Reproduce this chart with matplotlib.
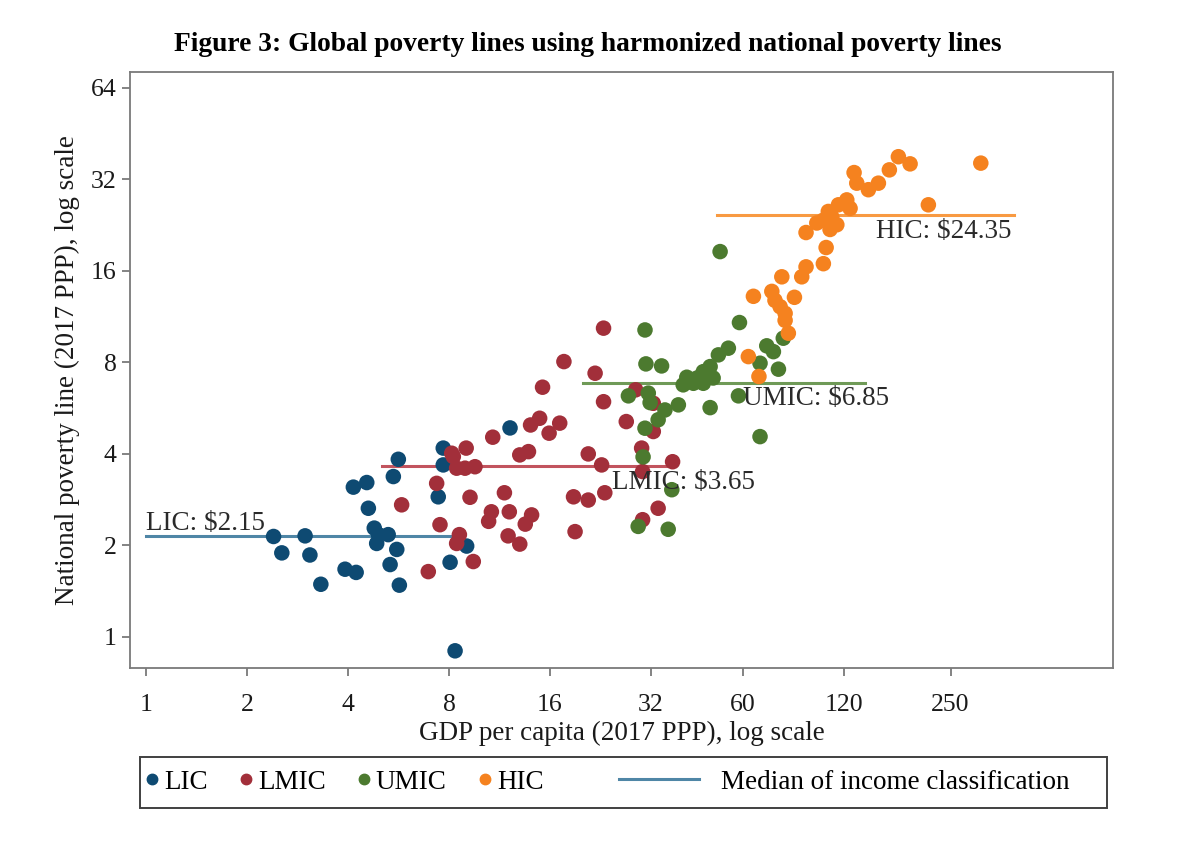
import matplotlib.pyplot as plt
from matplotlib.lines import Line2D
from matplotlib.patches import Rectangle

plt.rcParams["font.family"] = ["Liberation Serif", "DejaVu Serif"]

# GDP per capita (thousand 2017 PPP) and national poverty line (2017 PPP $/day)
lic_gdp = [2.40, 2.54, 2.98, 3.08, 3.32, 3.92, 4.23, 4.15, 4.55, 4.60, 4.79, 4.87, 4.93,
           5.27, 5.59, 5.34, 5.69, 5.46, 5.65, 7.69, 7.69, 7.43, 8.06, 9.03, 8.34, 12.16]
lic_pl = [2.14, 1.89, 2.15, 1.86, 1.49, 1.67, 1.63, 3.11, 3.22, 2.65, 2.28, 2.03, 2.17,
          2.17, 1.94, 1.73, 1.48, 3.37, 3.84, 4.18, 3.68, 2.89, 1.76, 1.99, 0.90, 4.87]

lmic_gdp = [23.1, 17.6, 21.8, 15.2, 23.1, 28.8, 32.5, 27.0, 32.5, 14.9, 14.0, 17.1, 15.9,
            10.8, 9.0, 8.15, 13.8, 13.0, 20.8, 22.8, 30.0, 37.1, 8.43, 8.93, 9.56, 8.24,
            7.35, 5.78, 9.24, 11.7, 10.7, 10.5, 12.1, 14.1, 13.5, 12.0, 13.0, 7.52, 8.59,
            8.43, 18.8, 20.8, 23.3, 19.0, 30.2, 33.6, 30.2, 9.45, 6.94]
lmic_pl = [10.37, 8.05, 7.37, 6.63, 5.94, 6.50, 5.87, 5.11, 4.74, 5.24, 4.98, 5.05, 4.68,
           4.54, 4.18, 4.02, 4.07, 3.97, 4.00, 3.68, 4.18, 3.77, 3.59, 3.59, 3.63, 3.92,
           3.20, 2.72, 2.88, 2.98, 2.58, 2.40, 2.58, 2.52, 2.35, 2.15, 2.02, 2.34, 2.17,
           2.03, 2.89, 2.82, 2.98, 2.22, 3.50, 2.65, 2.43, 1.77, 1.64]

umic_gdp = [51.4, 30.7, 58.7, 30.9, 34.4, 54.4, 50.8, 48.0, 45.8, 70.8, 74.1, 67.6, 76.7,
            79.3, 40.9, 42.8, 45.8, 39.9, 27.4, 31.4, 31.8, 38.6, 48.0, 58.3, 35.2, 33.6,
            30.7, 67.6, 30.3, 36.9, 29.3, 36.0, 43.9, 49.0]
umic_pl = [18.52, 10.23, 10.82, 7.91, 7.79, 8.91, 8.47, 7.75, 7.46, 9.07, 8.68, 7.95, 7.60,
           9.61, 7.15, 6.83, 6.83, 6.75, 6.21, 6.34, 5.90, 5.80, 5.68, 6.21, 5.58, 5.18,
           4.86, 4.56, 3.91, 3.05, 2.31, 2.26, 7.11, 7.11]

hic_gdp = [174.7, 189.3, 164.2, 307.5, 128.9, 131.3, 142.2, 152.3, 214.6, 122.6, 115.8,
           125.4, 108.0, 110.6, 104.4, 99.8, 114.5, 109.3, 92.7, 106.4, 104.4, 92.7, 90.0,
           78.5, 64.6, 73.3, 74.9, 77.6, 85.6, 80.3, 82.1, 62.4, 67.1, 80.3]
hic_pl = [38.0, 36.0, 34.4, 36.2, 33.7, 31.1, 29.6, 31.1, 26.4, 27.4, 26.4, 25.7, 25.1,
          24.1, 23.5, 23.0, 22.7, 21.9, 21.4, 19.1, 16.9, 16.5, 15.3, 15.3, 13.2, 13.7,
          12.8, 12.2, 13.1, 11.0, 9.98, 8.36, 7.19, 11.6]

# medians of each income classification and the GDP span of each segment
group_names = ["LIC", "LMIC", "UMIC", "HIC"]
median_pl = [2.15, 3.65, 6.85, 24.35]
median_x0 = [1.0, 5.04, 20.1, 50.2]
median_x1 = [8.34, 35.6, 139.0, 385.0]

x_ticks = [1, 2, 4, 8, 16, 32, 60, 120, 250]
y_ticks = [1, 2, 4, 8, 16, 32, 64]

colors = ["#0e4a72", "#a22f3a", "#4c7a2f", "#f5821f"]
line_colors = ["#4f86a6", "#c2545e", "#6f9a57", "#f89a42"]

# label anchors (left edge, vertical centre) in data units
label_xy = [(1.0, 2.37), (24.5, 3.21), (60.2, 6.07), (149.9, 21.5)]

fs = 19.5

fig = plt.figure(figsize=(11.88, 8.44), dpi=100)
ax = fig.add_axes([0.1094, 0.2085, 0.8275, 0.7062])

# median segments under the points
for i, name in enumerate(group_names):
    ax.plot([median_x0[i], median_x1[i]], [median_pl[i], median_pl[i]],
            color=line_colors[i], lw=2.2, zorder=1)

series = [(lic_gdp, lic_pl), (lmic_gdp, lmic_pl), (umic_gdp, umic_pl), (hic_gdp, hic_pl)]
for i, (gx, gy) in enumerate(series):
    ax.scatter(gx, gy, s=125, color=colors[i], edgecolors="none", zorder=2 + i)

for i, name in enumerate(group_names):
    lx, ly = label_xy[i]
    ax.text(lx, ly, f"{name}: ${median_pl[i]:.2f}", fontsize=fs, color="#2a2a2a",
            ha="left", va="center", zorder=10)

ax.set_xscale("log")
ax.set_yscale("log")
ax.set_xlim(0.896, 762)
ax.set_ylim(0.79, 72.2)
ax.set_xticks(x_ticks)
ax.set_xticklabels([str(t) for t in x_ticks])
ax.set_yticks(y_ticks)
ax.set_yticklabels([str(t) for t in y_ticks])
ax.minorticks_off()
ax.tick_params(length=6, width=1.2, color="#6e6e6e", labelsize=18.5,
               labelcolor="#1a1a1a")
ax.tick_params(axis="x", pad=12.5)
ax.tick_params(axis="y", pad=3.5)

for sp in ax.spines.values():
    sp.set_color("#7a7a7a")
    sp.set_linewidth(1.3)

ax.set_xlabel("GDP per capita (2017 PPP), log scale", fontsize=fs, color="#1a1a1a",
              labelpad=3.5)
ax.set_ylabel("National poverty line (2017 PPP), log scale", fontsize=fs,
              color="#1a1a1a", labelpad=8)

fig.text(0.495, 0.9467, "Figure 3: Global poverty lines using harmonized national poverty lines",
         ha="center", va="center", fontsize=19.8, fontweight="bold")

# legend: box drawn by hand, dots on the left and the median line on the right
x0, y0, x1, y1 = 0.1178, 0.0427, 0.9318, 0.1031
fig.patches.append(Rectangle((x0, y0), x1 - x0, y1 - y0, transform=fig.transFigure,
                             fill=False, edgecolor="#404040", lw=1.4))
dot_handles = [Line2D([], [], ls="none", marker="o", markersize=7.5, color=c) for c in colors]
fig.legend(dot_handles, group_names, ncol=4, loc="center left",
           bbox_to_anchor=(x0, (y0 + y1) / 2), borderaxespad=0, frameon=False,
           fontsize=fs, handletextpad=0.2, columnspacing=1.15, handlelength=0.5,
           borderpad=0.2)
fig.legend([Line2D([], [], color=line_colors[0], lw=2.2)], ["Median of income classification"],
           loc="center right", bbox_to_anchor=(x1, (y0 + y1) / 2), borderaxespad=0,
           frameon=False, fontsize=fs, handlelength=2.95, handletextpad=0.8,
           borderpad=1.4)

fig.savefig("out.png", dpi=100)
